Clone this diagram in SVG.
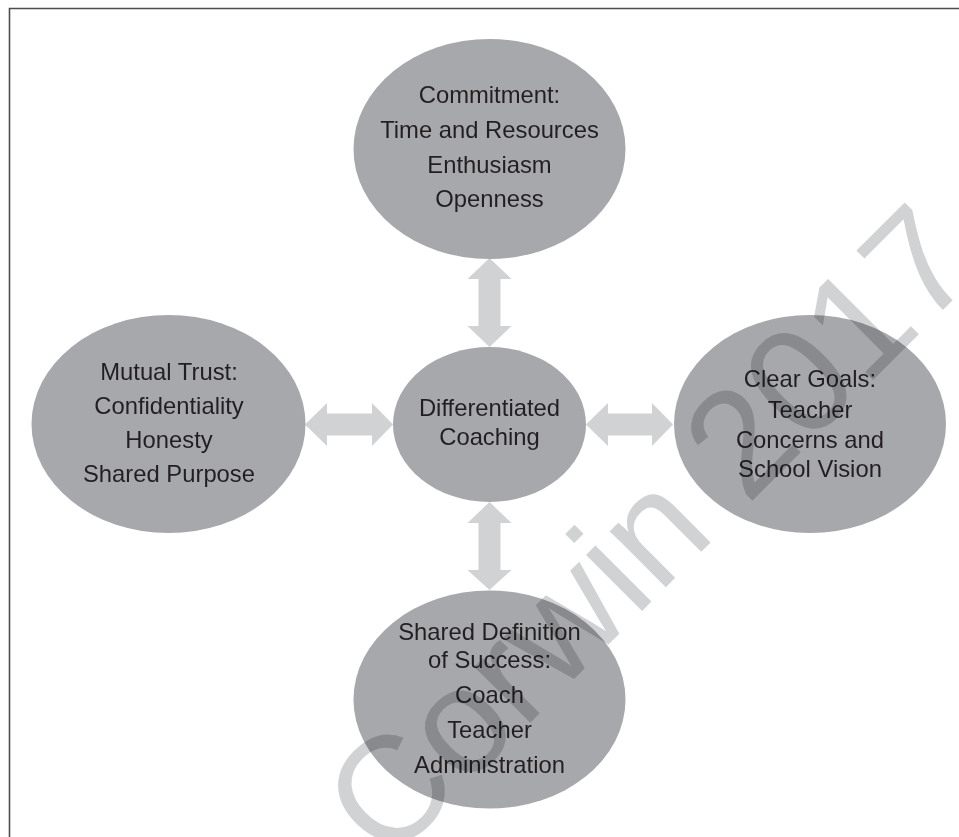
<svg xmlns="http://www.w3.org/2000/svg" width="959" height="837" viewBox="0 0 959 837">
<style>
.node{fill:#a7a8ab}
.conn{fill:#d1d2d4}
.lbl{font-family:"Liberation Sans",Arial,sans-serif;font-size:23.8px;fill:#231f20;text-anchor:middle}
.wm{font-family:"Liberation Sans",Arial,sans-serif;font-size:150px;fill:#d1d2d4;mix-blend-mode:multiply}
</style>
<rect width="959" height="837" fill="#ffffff"/>
<path d="M9.5,837 V8.5 H959" fill="none" stroke="#4d4d4d" stroke-width="1.6"/>
<g id="connectors">
<polygon class="conn" points="489.5,258 511.5,279 500.5,279 500.5,326 511.5,326 489.5,347 467.5,326 478.5,326 478.5,279 467.5,279"/>
<polygon class="conn" points="489.5,502 511.5,523 500.5,523 500.5,570 511.5,570 489.5,590 467.5,570 478.5,570 478.5,523 467.5,523"/>
<polygon class="conn" points="305,424.5 327,403 327,413.5 372,413.5 372,403 393,424.5 372,446 372,435.5 327,435.5 327,446"/>
<polygon class="conn" points="586,424.5 608,403 608,413.5 652,413.5 652,403 673,424.5 652,446 652,435.5 608,435.5 608,446"/>
</g>
<g id="commitment">
<ellipse class="node" cx="489.5" cy="149" rx="136" ry="110"/>
<text class="lbl" x="489.5" y="103">Commitment:</text>
<text class="lbl" x="489.5" y="138">Time and Resources</text>
<text class="lbl" x="489.5" y="173">Enthusiasm</text>
<text class="lbl" x="489.5" y="207">Openness</text>
</g>
<g id="mutual-trust">
<ellipse class="node" cx="168.5" cy="424" rx="137" ry="109"/>
<text class="lbl" x="169" y="380">Mutual Trust:</text>
<text class="lbl" x="169" y="414">Confidentiality</text>
<text class="lbl" x="169" y="448">Honesty</text>
<text class="lbl" x="169" y="482">Shared Purpose</text>
</g>
<g id="differentiated-coaching">
<ellipse class="node" cx="489.5" cy="424.5" rx="96.5" ry="77.5"/>
<text class="lbl" x="489.5" y="416">Differentiated</text>
<text class="lbl" x="489.5" y="445">Coaching</text>
</g>
<g id="clear-goals">
<ellipse class="node" cx="810" cy="424" rx="136" ry="109"/>
<text class="lbl" x="810" y="387">Clear Goals:</text>
<text class="lbl" x="810" y="418">Teacher</text>
<text class="lbl" x="810" y="448">Concerns and</text>
<text class="lbl" x="810" y="477">School Vision</text>
</g>
<g id="shared-definition">
<ellipse class="node" cx="489.5" cy="699.5" rx="136" ry="109"/>
<text class="lbl" x="489.5" y="640">Shared Definition</text>
<text class="lbl" x="489.5" y="668">of Success:</text>
<text class="lbl" x="489.5" y="703">Coach</text>
<text class="lbl" x="489.5" y="738">Teacher</text>
<text class="lbl" x="489.5" y="773">Administration</text>
</g>
<text class="wm" transform="translate(387.5,865.5) rotate(-45)">Corwin 2017</text>
</svg>
